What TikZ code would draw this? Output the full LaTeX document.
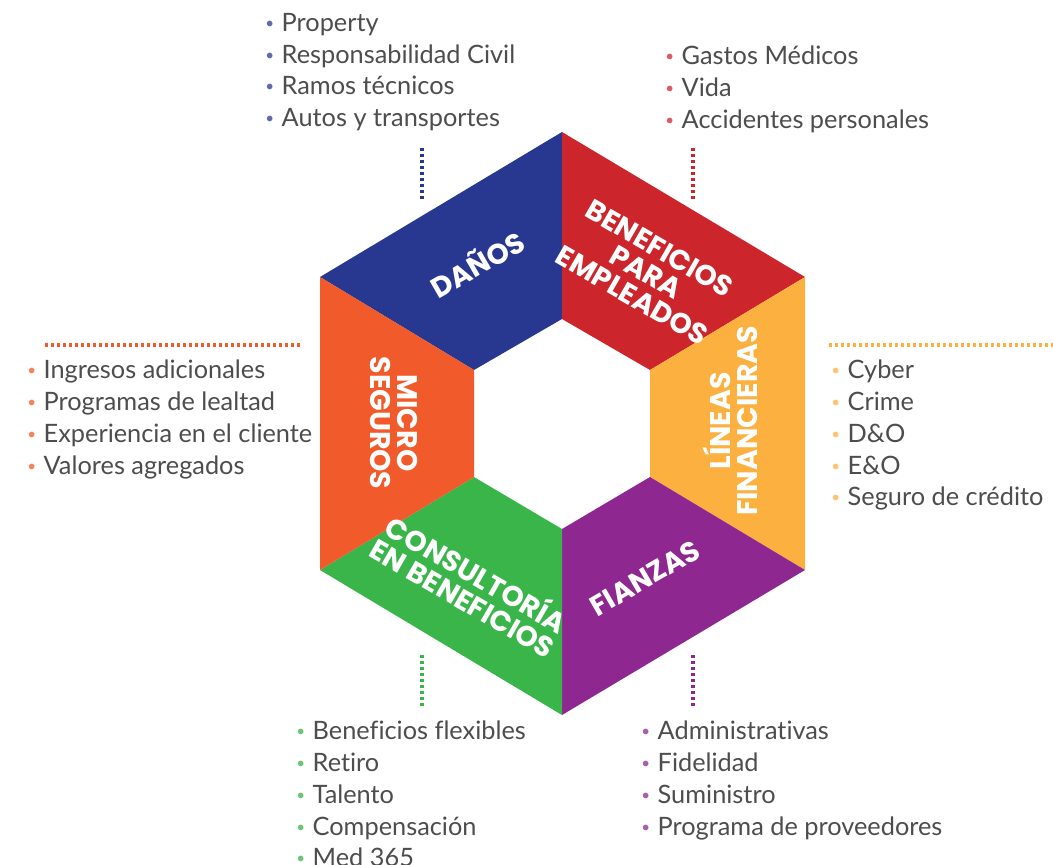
\documentclass[tikz,border=0pt]{standalone}
\usepackage{fontspec}
\usepackage{graphicx}
\usepackage{xcolor}
\setmainfont{Lato}[Ligatures=NoCommon]
\newfontfamily\headfont{Poppins}

\definecolor{danosC}{HTML}{283891}
\definecolor{benefC}{HTML}{CC252B}
\definecolor{lineasC}{HTML}{FBB040}
\definecolor{fianzasC}{HTML}{8E278F}
\definecolor{consulC}{HTML}{3AB54A}
\definecolor{microC}{HTML}{F15A2B}
\definecolor{txtC}{HTML}{4D4D4D}

\newcommand{\itm}[2]{{\color{#1!75}\raisebox{0.12em}{\scalebox{0.6}{\textbullet}}}\hspace{0.3em}#2}

\begin{document}
\begin{tikzpicture}[
    x=0.75pt, y=-0.75pt,
    lbl/.style={text=white, inner sep=0, align=center, font=\headfont\bfseries\fontsize{21.3}{20.5}\selectfont},
    lst/.style={text=txtC, inner sep=0, align=left, anchor=north west, font=\fontsize{19}{23.8}\selectfont},
    dots/.style={line width=2.3pt, dash pattern=on 2.3pt off 2.2pt}
]
    \useasboundingbox (0,0) rectangle (1053,864);
    \fill[white] (0,0) rectangle (1053,864);

    % outer and inner corners of the ring
    \coordinate (Ot) at (562,132);  \coordinate (Our) at (805,277);
    \coordinate (Olr) at (805,570); \coordinate (Ob) at (562,715);
    \coordinate (Oll) at (320,570); \coordinate (Oul) at (320,277);
    \coordinate (It) at (562,319);  \coordinate (Iur) at (650,370);
    \coordinate (Ilr) at (650,477); \coordinate (Ib) at (562,529);
    \coordinate (Ill) at (474,477); \coordinate (Iul) at (474,370);

    \fill[danosC] (Oul) -- (Ot) -- (It) -- (Iul) -- cycle;
    \fill[benefC] (Ot) -- (Our) -- (Iur) -- (It) -- cycle;
    \fill[lineasC] (Our) -- (Olr) -- (Ilr) -- (Iur) -- cycle;
    \fill[fianzasC] (Olr) -- (Ob) -- (Ib) -- (Ilr) -- cycle;
    \fill[consulC] (Ob) -- (Oll) -- (Ill) -- (Ib) -- cycle;
    \fill[microC] (Oll) -- (Oul) -- (Iul) -- (Ill) -- cycle;

    \node[lbl, rotate=30] (danos) at (477,263) {DAÑOS};
    \node[lbl, rotate=-30] (benef) at (646,272) {BENEFICIOS\\PARA\\EMPLEADOS};
    \node[lbl, rotate=90] (lineas) at (730,421) {LÍNEAS\\FINANCIERAS};
    \node[lbl, rotate=30] (fianzas) at (645,578) {FIANZAS};
    \node[lbl, rotate=-30] (consul) at (471,584) {CONSULTORÍA\\EN BENEFICIOS};
    \node[lbl, rotate=-90] (micro) at (394,423) {MICRO\\SEGUROS};

    % lists
    \node[lst] (danosL) at (265,13) {\itm{danosC}{Property}\\ \itm{danosC}{Responsabilidad Civil}\\ \itm{danosC}{Ramos técnicos}\\ \itm{danosC}{Autos y transportes}};
    \node[lst] (benefL) at (665,46) {\itm{benefC}{Gastos Médicos}\\ \itm{benefC}{Vida}\\ \itm{benefC}{Accidentes personales}};
    \node[lst] (microL) at (27,360) {\itm{microC}{Ingresos adicionales}\\ \itm{microC}{Programas de lealtad}\\ \itm{microC}{Experiencia en el cliente}\\ \itm{microC}{Valores agregados}};
    \node[lst] (lineasL) at (831,360) {\itm{lineasC}{Cyber}\\ \itm{lineasC}{Crime}\\ \itm{lineasC}{D\&O}\\ \itm{lineasC}{E\&O}\\ \itm{lineasC}{Seguro de crédito}};
    \node[lst] (consulL) at (296,721) {\itm{consulC}{Beneficios flexibles}\\ \itm{consulC}{Retiro}\\ \itm{consulC}{Talento}\\ \itm{consulC}{Compensación}\\ \itm{consulC}{Med 365}};
    \node[lst] (fianzasL) at (641,721) {\itm{fianzasC}{Administrativas}\\ \itm{fianzasC}{Fidelidad}\\ \itm{fianzasC}{Suministro}\\ \itm{fianzasC}{Programa de proveedores}};

    % dotted leaders
    \coordinate (danosA) at (422,148);   \coordinate (danosB) at (422,200);
    \coordinate (benefA) at (693,148);   \coordinate (benefB) at (693,200);
    \coordinate (microA) at (45,345);    \coordinate (microB) at (300,345);
    \coordinate (lineasA) at (829,345);  \coordinate (lineasB) at (1053,345);
    \coordinate (consulA) at (422,655);  \coordinate (consulB) at (422,707);
    \coordinate (fianzasA) at (693,655); \coordinate (fianzasB) at (693,707);

    \draw[dots, danosC] (danosA) -- (danosB);
    \draw[dots, benefC] (benefA) -- (benefB);
    \draw[dots, microC] (microA) -- (microB);
    \draw[dots, lineasC] (lineasA) -- (lineasB);
    \draw[dots, consulC] (consulA) -- (consulB);
    \draw[dots, fianzasC] (fianzasA) -- (fianzasB);

\end{tikzpicture}
\end{document}
